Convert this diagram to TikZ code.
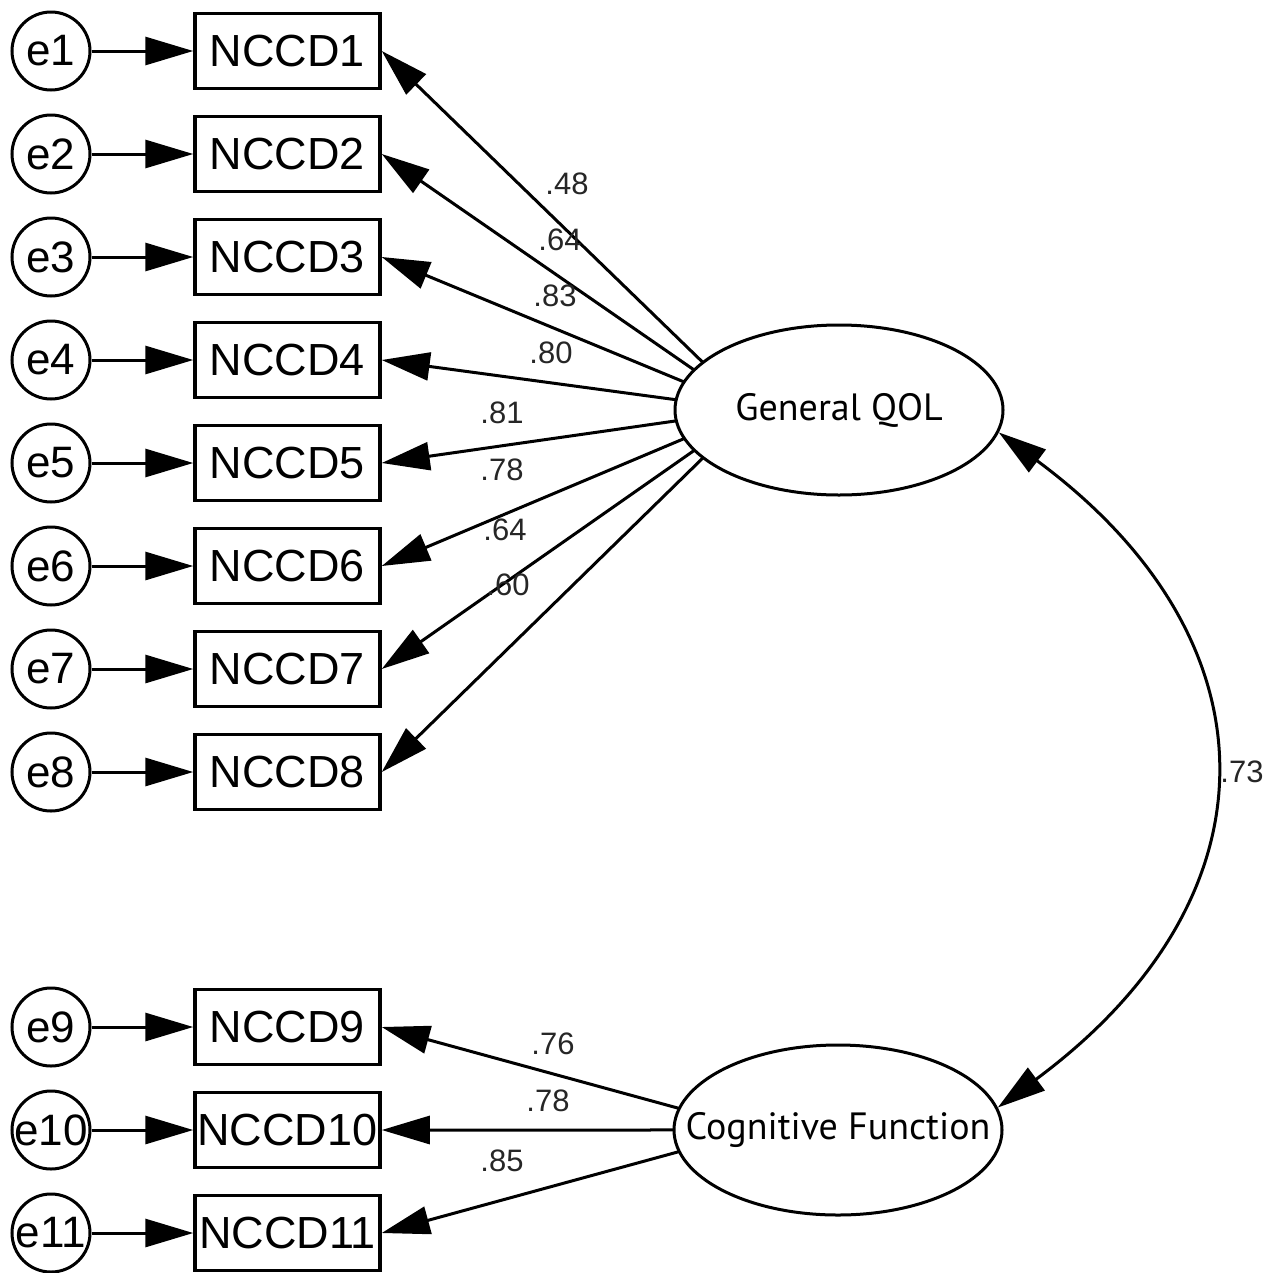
\documentclass[tikz,border=0pt]{standalone}
\usepackage{fontspec}
\setmainfont{Liberation Sans}
\newfontfamily\latfont{PT Sans}
\usetikzlibrary{arrows.meta,shapes.geometric,intersections}
\begin{document}
\begin{tikzpicture}[x=1pt,y=-1pt,
  err/.style={circle,draw,line width=3pt,minimum size=78pt,inner sep=0pt,font=\fontsize{44}{44}\selectfont},
  obs/.style={rectangle,draw,line width=3.5pt,minimum width=185pt,minimum height=75pt,inner sep=0pt,font=\fontsize{45}{45}\selectfont},
  lat/.style={ellipse,draw,line width=3pt,minimum width=328pt,minimum height=170pt,inner sep=0pt,font=\latfont\fontsize{38}{38}\selectfont},
  tip/.tip={Triangle[length=48pt,width=28pt]},
  arr/.style={line width=3pt,-tip},
  coef/.style={font=\fontsize{31}{31}\selectfont,text=black!85,inner sep=0pt}]
\useasboundingbox[fill=white] (0,0) rectangle (1277,1272);
% latent variables
\node[lat,name path=gE] (g) at (839,410) {\makebox[0pt]{General QOL}};
\node[lat,name path=cE] (c) at (838,1130) {\makebox[0pt]{Cognitive Function}};
\coordinate (gi) at (752,410);
\coordinate (ci) at (758,1130);
% indicators and errors
\foreach \i/\y in {1/51,2/154,3/257,4/360,5/463,6/566,7/669,8/772,9/1027,10/1130,11/1233}{
  \node[err] (e\i) at (51,\y) {\makebox[0pt]{e\i}};
  \node[obs] (b\i) at (287.5,\y) {\makebox[0pt]{NCCD\i}};
  \draw[arr] (e\i) -- (b\i);
}
\foreach \i in {1,...,8}{
  \path[name path=L\i] (gi) -- (b\i.east);
  \draw[arr,name intersections={of=gE and L\i,by={s\i}}] (s\i) -- (b\i.east);
}
\foreach \i in {9,10,11}{
  \path[name path=L\i] (ci) -- (b\i.east);
  \draw[arr,name intersections={of=cE and L\i,by={s\i}}] (s\i) -- (b\i.east);
}
% covariance
\draw[line width=3pt,tip-tip] (g.-8) .. controls (1281,641) and (1281,898) .. (c.8);
% coefficients
\node[coef] (l1) at (567,184) {.48};
\node[coef] (l2) at (560,240) {.64};
\node[coef] (l3) at (555,296) {.83};
\node[coef] (l4) at (551,353) {.80};
\node[coef] (l5) at (502,413) {.81};
\node[coef] (l6) at (502,470) {.78};
\node[coef] (l7) at (505,530) {.64};
\node[coef] (l8) at (508,585) {.60};
\node[coef] (l9) at (553,1044) {.76};
\node[coef] (l10) at (548,1101) {.78};
\node[coef] (l11) at (502,1161) {.85};
\node[coef] (l12) at (1242,772) {.73};
\end{tikzpicture}
\end{document}
